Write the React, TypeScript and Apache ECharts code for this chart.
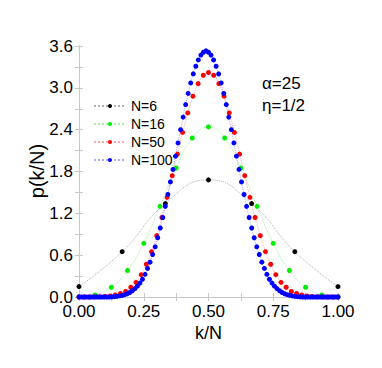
import React, { useEffect, useRef } from "react";
import * as echarts from "echarts";

const seriesNames = ["N=6", "N=16", "N=50", "N=100"];
const pointColors = ["#000000", "#00ee00", "#ff0000", "#0000ff"];
const lineColors = ["#b0b0b0", "#a6f0a6", "#ffaaaa", "#aaaaff"];

const n6 = [0.15, 0.65, 1.34, 1.68, 1.34, 0.65, 0.15];
const n16 = [0.003, 0.03, 0.14, 0.38, 0.77, 1.3, 1.85, 2.28, 2.44, 2.28, 1.85, 1.3, 0.77, 0.38, 0.14, 0.03, 0.003];
const n50 = [
  0, 0, 0, 0.001, 0.003, 0.007, 0.015, 0.03, 0.05, 0.08, 0.14, 0.21, 0.32, 0.47, 0.65, 0.88, 1.14, 1.43, 1.74, 2.05, 2.36,
  2.64, 2.88, 3.06, 3.18, 3.22, 3.18, 3.06, 2.88, 2.64, 2.36, 2.05, 1.74, 1.43, 1.14, 0.88, 0.65, 0.47, 0.32, 0.21, 0.14,
  0.08, 0.05, 0.03, 0.015, 0.007, 0.003, 0.001, 0, 0, 0,
];
const n100 = [
  0, 0, 0, 0, 0, 0, 0, 0, 0, 0, 0, 0, 0, 0.002, 0.005, 0.009, 0.015, 0.023, 0.033, 0.047, 0.065, 0.09, 0.12, 0.155, 0.2,
  0.255, 0.325, 0.41, 0.5, 0.61, 0.72, 0.85, 0.99, 1.14, 1.3, 1.47, 1.65, 1.83, 2.02, 2.21, 2.4, 2.58, 2.76, 2.92, 3.07,
  3.2, 3.31, 3.4, 3.47, 3.51, 3.53, 3.51, 3.47, 3.4, 3.31, 3.2, 3.07, 2.92, 2.76, 2.58, 2.4, 2.21, 2.02, 1.83, 1.65, 1.47,
  1.3, 1.14, 0.99, 0.85, 0.72, 0.61, 0.5, 0.41, 0.325, 0.255, 0.2, 0.155, 0.12, 0.09, 0.065, 0.047, 0.033, 0.023, 0.015,
  0.009, 0.005, 0.002, 0, 0, 0, 0, 0, 0, 0, 0, 0, 0, 0, 0, 0, 0, 0,
];
const allValues = [n6, n16, n50, n100];

const xTitle = "k/N";
const yTitle = "p(k/N)";
const noteLines = ["α=25", "η=1/2"];

const FONT = "Liberation Sans, Arial, Helvetica, sans-serif";
const FRAME = "#c8c8c8";

export default function App() {
  const ref = useRef<HTMLDivElement>(null);
  useEffect(() => {
    if (!ref.current) return;
    const chart = echarts.init(ref.current, undefined, { renderer: "svg" });
    const tickCommon = {
      axisLine: { show: true, lineStyle: { color: FRAME, width: 1 } },
      axisTick: { show: true, inside: true, length: 4, lineStyle: { color: FRAME } },
      minorTick: { show: true, splitNumber: 2, length: 4, lineStyle: { color: FRAME } },
      splitLine: { show: false },
      minorSplitLine: { show: false },
    };
    const series = allValues.map((vals, i) => ({
      name: seriesNames[i],
      type: "line",
      data: vals.map((v, k) => [k / (vals.length - 1), v]),
      smooth: true,
      clip: false,
      symbol: "circle",
      symbolSize: 5,
      showSymbol: true,
      itemStyle: { color: pointColors[i] },
      lineStyle: { color: lineColors[i], width: 1, type: "dotted" },
      emphasis: { disabled: true },
    }));
    chart.setOption({
      animation: false,
      backgroundColor: "#ffffff",
      grid: { left: 79, right: 44, top: 46, bottom: 71, containLabel: false },
      legend: {
        orient: "vertical",
        left: 88,
        top: 94,
        itemWidth: 32,
        itemHeight: 5,
        itemGap: 4,
        textStyle: { fontSize: 14, fontFamily: FONT, color: "#000" },
        data: seriesNames,
      },
      xAxis: [
        {
          type: "value",
          min: 0,
          max: 1,
          interval: 0.25,
          position: "bottom",
          ...tickCommon,
          axisLabel: {
            show: true,
            margin: 8,
            fontSize: 17,
            lineHeight: 12,
            fontFamily: FONT,
            color: "#000",
            formatter: (v: number) => v.toFixed(2),
          },
        },
        {
          type: "value",
          min: 0,
          max: 1,
          interval: 0.25,
          position: "top",
          ...tickCommon,
          axisLabel: { show: false },
        },
      ],
      yAxis: [
        {
          type: "value",
          min: 0,
          max: 3.6,
          interval: 0.6,
          position: "left",
          ...tickCommon,
          axisLabel: {
            show: true,
            margin: 6,
            fontSize: 17,
            lineHeight: 12,
            fontFamily: FONT,
            color: "#000",
            formatter: (v: number) => v.toFixed(1),
          },
        },
        {
          type: "value",
          min: 0,
          max: 3.6,
          interval: 0.6,
          position: "right",
          ...tickCommon,
          axisLabel: { show: false },
        },
      ],
      graphic: [
        {
          type: "text",
          x: 208.5,
          y: 333,
          style: { text: xTitle, fontSize: 18, fontFamily: FONT, fill: "#000", align: "center", verticalAlign: "middle" },
        },
        {
          type: "text",
          x: 37,
          y: 171,
          rotation: Math.PI / 2,
          style: { text: yTitle, fontSize: 20, fontFamily: FONT, fill: "#000", align: "center", verticalAlign: "middle" },
        },
        {
          type: "text",
          x: 262,
          y: 83,
          style: { text: noteLines[0], fontSize: 17, fontFamily: FONT, fill: "#000", align: "left", verticalAlign: "middle" },
        },
        {
          type: "text",
          x: 262,
          y: 105,
          style: { text: noteLines[1], fontSize: 17, fontFamily: FONT, fill: "#000", align: "left", verticalAlign: "middle" },
        },
      ],
      series,
    });
    return () => chart.dispose();
  }, []);
  return <div ref={ref} style={{ position: "fixed", left: 0, top: 0, width: 382, height: 368 }} />;
}
